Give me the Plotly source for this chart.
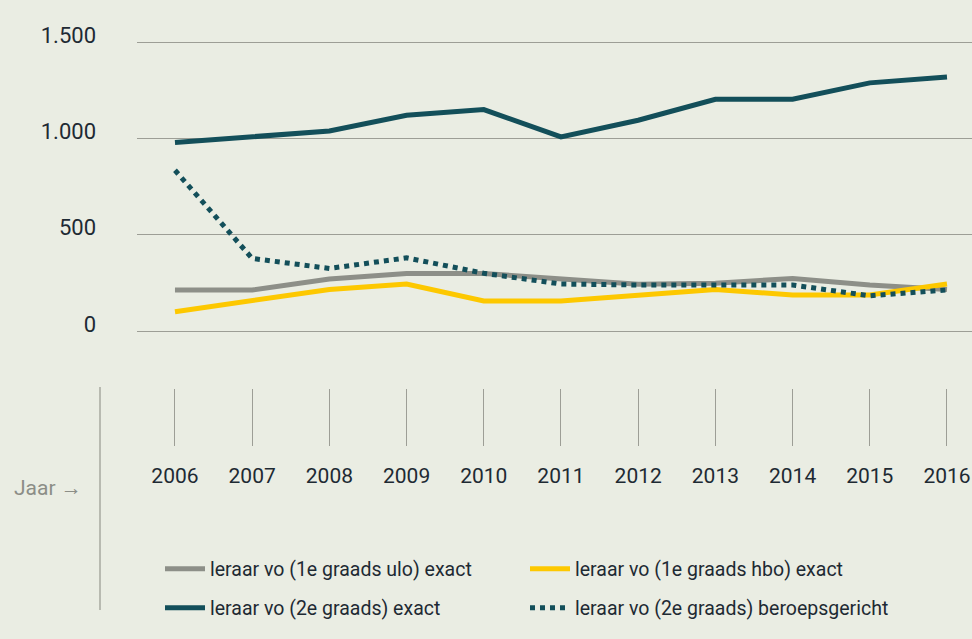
import plotly.graph_objects as go

years = [2006, 2007, 2008, 2009, 2010, 2011, 2012, 2013, 2014, 2015, 2016]
year_labels = [str(y) for y in years]

ulo_1e = [213, 213, 270, 299, 299, 268, 243, 248, 273, 239, 216]
hbo_1e = [100, 157, 216, 244, 156, 156, 187, 216, 187, 187, 244]
exact_2e = [979, 1008, 1039, 1121, 1150, 1008, 1095, 1204, 1204, 1289, 1320]
beroeps_2e = [835, 377, 325, 380, 300, 244, 239, 239, 239, 183, 213]

names = [
    "leraar vo (1e graads ulo) exact",
    "leraar vo (1e graads hbo) exact",
    "leraar vo (2e graads) exact",
    "leraar vo (2e graads) beroepsgericht",
]

y_tickvals = [0, 500, 1000, 1500]
y_ticktext = ["0", "500", "1.000", "1.500"]

BG = "#eaede3"
GRID = "#9d9e96"
DARK = "#134f5a"
GRAY = "#8d8f88"
YELLOW = "#fdc800"
TEXT = "#1e2a33"
FONT = "Roboto, sans-serif"

W, H = 972, 639

fig = go.Figure()
fig.add_trace(go.Scatter(x=years, y=ulo_1e, name=names[0], mode="lines",
                         line=dict(color=GRAY, width=5), legend="legend"))
fig.add_trace(go.Scatter(x=years, y=hbo_1e, name=names[1], mode="lines",
                         line=dict(color=YELLOW, width=5), legend="legend"))
fig.add_trace(go.Scatter(x=years, y=exact_2e, name=names[2], mode="lines",
                         line=dict(color=DARK, width=5), legend="legend2"))
fig.add_trace(go.Scatter(x=years, y=beroeps_2e, name=names[3], mode="lines",
                         line=dict(color=DARK, width=5, dash="dot"), legend="legend2"))

legend_common = dict(orientation="h", xanchor="left", yanchor="middle",
                     bgcolor="rgba(0,0,0,0)", font=dict(family=FONT, size=19.5, color=TEXT),
                     entrywidth=310, entrywidthmode="pixels", itemwidth=40)

fig.update_layout(
    width=W, height=H,
    paper_bgcolor=BG, plot_bgcolor=BG,
    margin=dict(l=0, r=0, t=0, b=0, autoexpand=False),
    showlegend=True,
    legend=dict(x=160 / W, y=1 - 569 / H, **legend_common),
    legend2=dict(x=160 / W, y=1 - 608 / H, **legend_common),
    xaxis=dict(
        domain=[137 / W, 1],
        range=[2005.508, 2016.324],
        anchor="free", position=1 - 388 / H,
        showgrid=False, zeroline=False, showline=False,
        ticks="outside", ticklen=57, tickwidth=1.3, tickcolor=GRID,
        tickvals=years, ticktext=year_labels,
        ticklabelstandoff=12, ticklabeloverflow="allow",
        tickfont=dict(family=FONT, size=21, color=TEXT),
    ),
    yaxis=dict(
        domain=[1 - 345 / H, 1 - 30 / H],
        range=[-72.7, 1563.6],
        showgrid=True, gridcolor=GRID, gridwidth=1.3,
        zeroline=False, showline=False,
        tickvals=y_tickvals, ticktext=y_ticktext,
        ticks="", ticklabelstandoff=40, ticklabelshift=-7,
        tickfont=dict(family=FONT, size=22, color=TEXT),
    ),
    shapes=[dict(type="line", xref="paper", yref="paper",
                 x0=100 / W, x1=100 / W, y0=1 - 387 / H, y1=1 - 610 / H,
                 line=dict(color=GRID, width=1.3))],
    annotations=[dict(text="Jaar \u2192", xref="paper", yref="paper",
                      x=12 / W, y=1 - 488 / H, xanchor="left", yanchor="middle",
                      showarrow=False, font=dict(family=FONT, size=21, color="#8c8e87"))],
)

fig.write_html("out.html", config={"displayModeBar": False},
               post_script="document.body.style.margin='0px';document.body.style.overflow='hidden';")
